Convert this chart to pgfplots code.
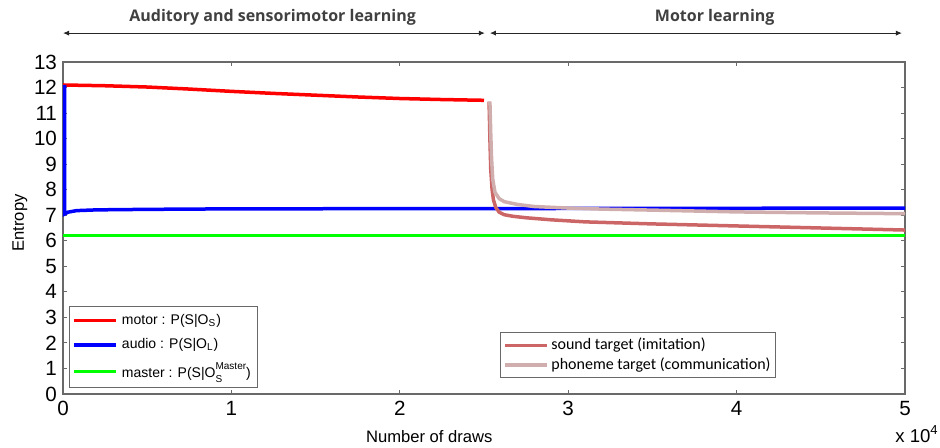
\documentclass[border=0pt]{standalone}
\usepackage{fontspec}
\setmainfont{Liberation Sans}
\newfontfamily\titlefont{Open Sans}
\newfontfamily\calfont{Carlito}
\usepackage{pgfplots}
\pgfplotsset{compat=1.18}
\usetikzlibrary{arrows.meta}
\definecolor{motorred}{RGB}{255,0,0}
\definecolor{audioblue}{RGB}{0,0,255}
\definecolor{mastergreen}{RGB}{0,255,0}
\definecolor{soundc}{RGB}{204,102,102}
\definecolor{phonc}{RGB}{208,174,174}
\definecolor{axgray}{RGB}{105,105,105}
\definecolor{titlegray}{RGB}{64,64,64}
\begin{document}
\begin{tikzpicture}
\useasboundingbox (-31.5pt,-27pt) rectangle (438.5pt,197pt);
\pgfplotsset{
  commonax/.style={
    at={(0,0)}, anchor=south west,
    width=421pt, height=166pt, scale only axis,
    xmin=0, xmax=5, ymin=0, ymax=13,
    xtick={0,1,2,3,4,5}, ytick={0,1,...,13},
  },
  legend image code/.code={\draw[#1] (0pt,0pt) -- (21pt,0pt);},
}
\begin{axis}[commonax,
  axis line style={axgray, line width=0.6pt},
  tick style={axgray, line width=0.5pt},
  major tick length=2pt,
  tick align=inside,
  tick pos=both,
  /pgf/number format/assume math mode=true,
  ticklabel style={font=\fontsize{10.3}{11}\selectfont},
  xticklabel style={yshift=0pt},
  yticklabel style={xshift=0.5pt},
  xlabel={Number of draws},
  ylabel={Entropy},
  every axis x label/.style={at={(axis description cs:0.435,0)}, yshift=-24.3pt, anchor=base, font=\fontsize{8.3}{10}\selectfont},
  every axis y label/.style={at={(axis description cs:0,0.515)}, xshift=-21.5pt, rotate=90, anchor=center, font=\fontsize{8.3}{10}\selectfont},
  clip=false,
  legend style={at={(0.0071,0.018)}, anchor=south west, draw=axgray, line width=0.5pt,
    font=\fontsize{7}{8}\selectfont, inner sep=1.5pt, row sep=1.6pt,
    /tikz/every even column/.append style={column sep=1pt}},
  legend cell align=left,
]
\addplot[motorred, line width=1.75pt] coordinates {
(0,12.1) (0.25,12.07) (0.5,12.02) (0.75,11.94) (1,11.85) (1.25,11.77) (1.5,11.7) (1.75,11.63) (2,11.57) (2.25,11.53) (2.5,11.5)};
\addlegendentry{motor : P(S|O\textsubscript{S})}
\addplot[audioblue, line width=1.75pt] coordinates {
(0.01,12.1) (0.01,7.05) (0.03,7.12) (0.08,7.18) (0.2,7.21) (0.5,7.23) (1,7.25) (2.5,7.26) (5,7.28)};
\addlegendentry{audio : P(S|O\textsubscript{L})}
\addplot[mastergreen, line width=1.75pt] coordinates {(0,6.2) (5,6.2)};
\addlegendentry{master : P(S|O\rlap{\raisebox{-2.6pt}{\fontsize{5}{5}\selectfont S}}\raisebox{4pt}{\fontsize{5}{5}\selectfont Master})}
\draw[{Latex[length=3pt,width=2.6pt]}-{Latex[length=3pt,width=2.6pt]}, black!85, line width=0.5pt]
  (rel axis cs:0,1.087) -- (rel axis cs:0.501,1.087);
\draw[{Latex[length=3pt,width=2.6pt]}-{Latex[length=3pt,width=2.6pt]}, black!85, line width=0.5pt]
  (rel axis cs:0.507,1.087) -- (rel axis cs:0.9964,1.087);
\node[font=\titlefont\bfseries\fontsize{8}{10}\selectfont, text=titlegray, anchor=center]
  at (rel axis cs:0.249,1.1355) {Auditory and sensorimotor learning};
\node[font=\titlefont\bfseries\fontsize{8}{10}\selectfont, text=titlegray, anchor=center]
  at (rel axis cs:0.774,1.1355) {Motor learning};
\node[font=\fontsize{9.3}{10}\selectfont, anchor=base west, inner sep=0pt]
  at (rel axis cs:0.988,0) [yshift=-24.3pt] {x 10\textsuperscript{4}};
\end{axis}
\begin{axis}[commonax, hide axis,
  legend style={at={(0.519,0.048)}, anchor=south west, draw=axgray, line width=0.5pt,
    font=\calfont\fontsize{8}{8.5}\selectfont, inner sep=1.5pt, row sep=0pt,
    nodes={inner sep=1.2pt},
    /tikz/every even column/.append style={column sep=1pt}},
  legend cell align=left,
]
\addplot[soundc, line width=1.75pt] coordinates {
(2.53,11.45) (2.535,10.0) (2.54,8.8) (2.548,8.0) (2.556,7.6) (2.57,7.3) (2.59,7.12) (2.62,7.02) (2.67,6.96) (2.75,6.9) (2.9,6.82) (3.1,6.74) (3.5,6.66) (4,6.58) (4.5,6.5) (5,6.42)};
\addlegendentry{sound target (imitation)}
\addplot[phonc, line width=1.75pt] coordinates {
(2.535,11.45) (2.54,10.2) (2.545,9.2) (2.552,8.4) (2.565,7.9) (2.59,7.65) (2.62,7.53) (2.7,7.42) (2.8,7.34) (3,7.28) (3.2,7.24) (3.5,7.2) (4,7.13) (4.5,7.09) (5,7.06)};
\addlegendentry{phoneme target (communication)}
\end{axis}
\end{tikzpicture}
\end{document}
